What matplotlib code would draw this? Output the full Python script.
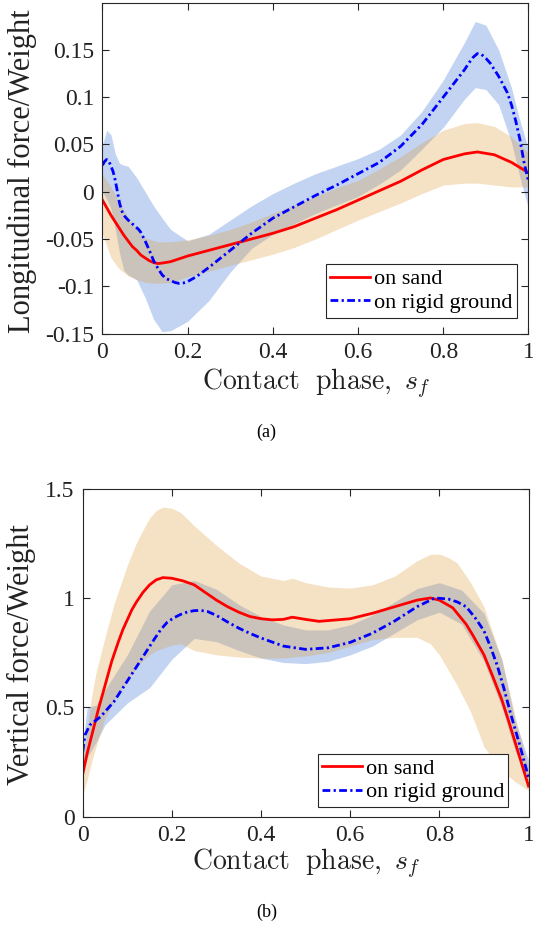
import matplotlib
matplotlib.use("Agg")
import matplotlib.pyplot as plt
from matplotlib import font_manager

installed = {f.name for f in font_manager.fontManager.ttflist}
serif = next(n for n in ['Liberation Serif', 'Tinos', 'Times New Roman', 'Nimbus Roman',
                         'TeX Gyre Termes', 'STIXGeneral'] if n in installed)
plt.rcParams['font.family'] = [serif, 'DejaVu Serif']
plt.rcParams['mathtext.fontset'] = 'cm'

# --- (a) longitudinal force -------------------------------------------------
lon_sand_s = [0, 0.01, 0.02, 0.03, 0.04, 0.05, 0.06, 0.07, 0.08, 0.09, 0.1, 0.11, 0.12,
              0.13, 0.14, 0.16, 0.2, 0.25, 0.3, 0.35, 0.4, 0.45, 0.5, 0.55, 0.6, 0.65,
              0.7, 0.75, 0.8, 0.85, 0.88, 0.92, 0.96, 1.0]
lon_sand_mean = [-0.009, -0.017, -0.025, -0.032, -0.039, -0.046, -0.052, -0.058, -0.062,
                 -0.067, -0.070, -0.073, -0.075, -0.076, -0.0755, -0.074, -0.068,
                 -0.062, -0.056, -0.050, -0.044, -0.037, -0.028, -0.019, -0.009, 0.001,
                 0.011, 0.023, 0.034, 0.040, 0.042, 0.039, 0.031, 0.020]

lon_sand_band_s = [0, 0.02, 0.04, 0.06, 0.08, 0.1, 0.13, 0.16, 0.2, 0.25, 0.3, 0.35, 0.4,
                   0.45, 0.5, 0.55, 0.6, 0.65, 0.7, 0.75, 0.8, 0.85, 0.88, 0.92, 0.96, 1.0]
lon_sand_hi = [0.018, 0.005, -0.012, -0.027, -0.040, -0.049, -0.053, -0.053, -0.051,
               -0.046, -0.040, -0.032, -0.023, -0.014, -0.005, 0.004, 0.012, 0.024,
               0.037, 0.052, 0.065, 0.072, 0.073, 0.069, 0.058, 0.041]
lon_sand_lo = [-0.045, -0.070, -0.082, -0.089, -0.093, -0.096, -0.097, -0.096, -0.090,
               -0.084, -0.078, -0.072, -0.066, -0.059, -0.050, -0.040, -0.030, -0.021,
               -0.012, -0.002, 0.007, 0.009, 0.009, 0.007, 0.005, 0.005]

lon_rigid_s = [0, 0.005, 0.01, 0.015, 0.02, 0.025, 0.03, 0.035, 0.04, 0.045, 0.05, 0.06,
               0.07, 0.075, 0.085, 0.09, 0.1, 0.11, 0.12, 0.13, 0.14, 0.15, 0.16, 0.17,
               0.18, 0.19, 0.2, 0.22, 0.25, 0.275, 0.3, 0.35, 0.4, 0.45, 0.5, 0.55, 0.6,
               0.65, 0.7, 0.75, 0.8, 0.85, 0.86, 0.87, 0.88, 0.89, 0.9, 0.91, 0.93,
               0.95, 0.96, 0.97, 0.98, 0.99, 1.0]
lon_rigid_mean = [0.028, 0.032, 0.034, 0.032, 0.027, 0.021, 0.012, 0.000, -0.012, -0.020,
                  -0.025, -0.030, -0.034, -0.036, -0.040, -0.043, -0.052, -0.062, -0.073,
                  -0.081, -0.088, -0.092, -0.094, -0.096, -0.097, -0.0965, -0.095,
                  -0.090, -0.080, -0.071, -0.062, -0.044, -0.028, -0.016, -0.004, 0.007,
                  0.019, 0.031, 0.048, 0.071, 0.100, 0.129, 0.136, 0.142, 0.146, 0.145,
                  0.141, 0.136, 0.122, 0.105, 0.092, 0.075, 0.055, 0.030, 0.011]

lon_rigid_band_s = [0, 0.01, 0.02, 0.03, 0.04, 0.05, 0.06, 0.08, 0.1, 0.12, 0.14, 0.16,
                    0.2, 0.25, 0.3, 0.35, 0.4, 0.45, 0.5, 0.55, 0.6, 0.65, 0.7, 0.75,
                    0.8, 0.85, 0.875, 0.9, 0.93, 0.96, 0.98, 1.0]
lon_rigid_hi = [0.050, 0.065, 0.060, 0.040, 0.030, 0.028, 0.027, 0.015, 0.000, -0.015,
                -0.028, -0.040, -0.052, -0.045, -0.030, -0.015, -0.002, 0.009, 0.019,
                0.027, 0.035, 0.045, 0.060, 0.085, 0.118, 0.158, 0.180, 0.176, 0.150,
                0.110, 0.075, 0.045]
lon_rigid_lo = [0.000, -0.008, -0.018, -0.040, -0.065, -0.083, -0.088, -0.093, -0.112,
                -0.135, -0.148, -0.147, -0.137, -0.115, -0.085, -0.060, -0.045, -0.034,
                -0.023, -0.014, -0.005, 0.008, 0.023, 0.045, 0.068, 0.098, 0.110, 0.108,
                0.092, 0.052, 0.015, -0.018]

# --- (b) vertical force -----------------------------------------------------
ver_sand_s = [0, 0.01, 0.02, 0.035, 0.05, 0.065, 0.08, 0.09, 0.1, 0.11, 0.12, 0.135,
              0.15, 0.165, 0.18, 0.2, 0.225, 0.25, 0.275, 0.3, 0.325, 0.35, 0.375, 0.4,
              0.425, 0.45, 0.47, 0.5, 0.53, 0.6, 0.65, 0.7, 0.75, 0.78, 0.8, 0.83, 0.86,
              0.875, 0.9, 0.92, 0.94, 0.955, 0.97, 0.985, 1.0]
ver_sand_mean = [0.195, 0.29, 0.37, 0.49, 0.60, 0.71, 0.80, 0.855, 0.90, 0.945, 0.98,
                 1.025, 1.06, 1.083, 1.093, 1.09, 1.078, 1.06, 1.025, 0.99, 0.96, 0.935,
                 0.915, 0.905, 0.90, 0.902, 0.912, 0.902, 0.893, 0.905, 0.93, 0.96,
                 0.99, 1.0, 0.99, 0.955, 0.88, 0.83, 0.74, 0.64, 0.535, 0.44, 0.34, 0.24,
                 0.14]

ver_sand_band_s = [0, 0.01, 0.02, 0.03, 0.05, 0.07, 0.1, 0.12, 0.135, 0.15, 0.165, 0.18,
                   0.2, 0.22, 0.25, 0.3, 0.35, 0.4, 0.45, 0.47, 0.5, 0.55, 0.6, 0.65,
                   0.7, 0.75, 0.78, 0.8, 0.82, 0.84, 0.87, 0.9, 0.94, 0.97, 1.0]
ver_sand_hi = [0.25, 0.40, 0.55, 0.66, 0.82, 0.97, 1.15, 1.25, 1.31, 1.365, 1.40, 1.415,
               1.41, 1.39, 1.33, 1.24, 1.16, 1.10, 1.08, 1.09, 1.07, 1.05, 1.045, 1.06,
               1.10, 1.17, 1.20, 1.20, 1.185, 1.16, 1.07, 0.96, 0.72, 0.46, 0.22]
ver_sand_lo = [0.10, 0.17, 0.25, 0.32, 0.45, 0.53, 0.62, 0.68, 0.715, 0.74, 0.76, 0.77,
               0.785, 0.79, 0.76, 0.74, 0.73, 0.725, 0.725, 0.73, 0.735, 0.75, 0.78,
               0.81, 0.82, 0.82, 0.79, 0.74, 0.67, 0.60, 0.48, 0.32, 0.21, 0.16, 0.12]

ver_rigid_s = [0, 0.005, 0.016, 0.04, 0.07, 0.1, 0.13, 0.16, 0.175, 0.19, 0.205, 0.22,
               0.235, 0.25, 0.265, 0.28, 0.3, 0.325, 0.35, 0.375, 0.4, 0.45, 0.5, 0.55,
               0.6, 0.65, 0.7, 0.75, 0.79, 0.82, 0.84, 0.86, 0.88, 0.9, 0.915, 0.93,
               0.945, 0.96, 0.98, 1.0]
ver_rigid_mean = [0.297, 0.373, 0.419, 0.457, 0.526, 0.62, 0.715, 0.81, 0.855, 0.89,
                  0.91, 0.925, 0.936, 0.942, 0.943, 0.938, 0.92, 0.89, 0.862, 0.838,
                  0.817, 0.78, 0.765, 0.772, 0.797, 0.839, 0.895, 0.96, 1.0, 0.995,
                  0.982, 0.96, 0.91, 0.85, 0.775, 0.69, 0.585, 0.47, 0.33, 0.18]

ver_rigid_band_s = [0, 0.01, 0.03, 0.05, 0.1, 0.15, 0.2, 0.25, 0.3, 0.35, 0.4, 0.45,
                    0.5, 0.55, 0.6, 0.65, 0.7, 0.75, 0.8, 0.85, 0.9, 0.94, 0.97, 1.0]
ver_rigid_hi = [0.33, 0.50, 0.51, 0.58, 0.74, 0.94, 1.06, 1.08, 1.04, 0.97, 0.915, 0.877,
                0.854, 0.854, 0.877, 0.922, 0.983, 1.043, 1.07, 1.036, 0.93, 0.72, 0.44,
                0.26]
ver_rigid_lo = [0.20, 0.27, 0.34, 0.42, 0.52, 0.59, 0.72, 0.815, 0.80, 0.76, 0.725, 0.705,
                0.70, 0.71, 0.74, 0.78, 0.84, 0.90, 0.935, 0.88, 0.71, 0.50, 0.30, 0.16]

x_ticks = [0, 0.2, 0.4, 0.6, 0.8, 1]
x_ticklabels = ['0', '0.2', '0.4', '0.6', '0.8', '1']
lon_ticks = [-0.15, -0.1, -0.05, 0, 0.05, 0.1, 0.15]
lon_ticklabels = ['-0.15', '-0.1', '-0.05', '0', '0.05', '0.1', '0.15']
ver_ticks = [0, 0.5, 1, 1.5]
ver_ticklabels = ['0', '0.5', '1', '1.5']

SAND_FILL = '#de9e3e'
RIGID_FILL = '#3773d7'
AXC = '#262626'


def draw_panel(ax, sand, rigid, ylim, yticks, yticklabels, legend_anchor):
    s_s, s_m, sb_s, s_hi, s_lo = sand
    r_s, r_m, rb_s, r_hi, r_lo = rigid
    ax.fill_between(rb_s, r_lo, r_hi, color=RIGID_FILL, alpha=0.3, lw=0)
    ax.fill_between(sb_s, s_lo, s_hi, color=SAND_FILL, alpha=0.3, lw=0)
    ax.plot(s_s, s_m, color='#ff0000', lw=2, label='on sand')
    ax.plot(r_s, r_m, color='#0000ff', lw=2, dashes=(2.8, 1.2, 0.8, 1.2),
            label='on rigid ground')
    ax.set_xlim(0, 1)
    ax.set_ylim(*ylim)
    ax.set_xticks(x_ticks)
    ax.set_xticklabels(x_ticklabels)
    ax.set_yticks(yticks)
    ax.set_yticklabels(yticklabels)
    ax.tick_params(direction='in', top=True, right=True, length=5, width=0.8,
                   colors=AXC, labelcolor='#222222', labelsize=17, pad=6)
    for sp in ax.spines.values():
        sp.set_color(AXC)
        sp.set_linewidth(0.8)
    leg = ax.legend(loc='lower right', bbox_to_anchor=legend_anchor, borderaxespad=0,
                    fontsize=16, fancybox=False, framealpha=1, edgecolor=AXC,
                    handlelength=1.8, handletextpad=0.15, borderpad=0.2,
                    labelspacing=0.15)
    leg.get_frame().set_linewidth(0.8)


fig = plt.figure(figsize=(5.33, 9.26), dpi=100)
ax1 = fig.add_axes([0.1923, 0.6398, 0.7992, 0.3575])
ax2 = fig.add_axes([0.1552, 0.118, 0.8364, 0.3544])

draw_panel(ax1,
           (lon_sand_s, lon_sand_mean, lon_sand_band_s, lon_sand_hi, lon_sand_lo),
           (lon_rigid_s, lon_rigid_mean, lon_rigid_band_s, lon_rigid_hi, lon_rigid_lo),
           (-0.15, 0.2), lon_ticks, lon_ticklabels, (0.972, 0.048))
draw_panel(ax2,
           (ver_sand_s, ver_sand_mean, ver_sand_band_s, ver_sand_hi, ver_sand_lo),
           (ver_rigid_s, ver_rigid_mean, ver_rigid_band_s, ver_rigid_hi, ver_rigid_lo),
           (0, 1.5), ver_ticks, ver_ticklabels, (0.955, 0.03))

xlab = r'$\mathrm{Contact\ \ phase,}\ s_f$'
fig.text(0.592, 1 - 384 / 926, xlab, ha='center', va='center', fontsize=20, color='#222222')
fig.text(0.5734, 1 - 864 / 926, xlab, ha='center', va='center', fontsize=20, color='#222222')
fig.text(22 / 533, 1 - 171 / 926, 'Longitudinal force/Weight', rotation=90,
         ha='center', va='center', fontsize=22, color='#222222')
fig.text(21 / 533, 1 - 655 / 926, 'Vertical force/Weight', rotation=90,
         ha='center', va='center', fontsize=22, color='#222222')
fig.text(0.5, 1 - 432 / 926, '(a)', ha='center', va='center', fontsize=13)
fig.text(0.5, 1 - 912 / 926, '(b)', ha='center', va='center', fontsize=13)

fig.savefig('out.png', dpi=100)
